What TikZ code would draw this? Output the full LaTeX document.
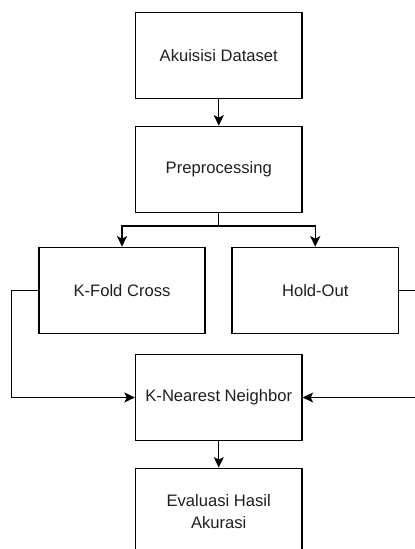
\documentclass[tikz,border=0pt]{standalone}
\usepackage{fontspec}
\setmainfont{Liberation Sans}
\usetikzlibrary{arrows.meta}
\begin{document}
\begin{tikzpicture}[x=1pt,y=-1pt,
  box/.style={draw=black,line width=1.3pt,minimum width=166.5pt,minimum height=86pt,inner sep=2pt,
    align=center,font=\fontsize{16.6}{22}\selectfont,text=black!88},
  conn/.style={draw=black,line width=1.3pt},
  arr/.style={conn,-{Stealth[length=10.5pt,width=10pt,inset=2.5pt]}}]
\useasboundingbox (0,0) rectangle (415,549);
\clip (0,0) rectangle (415,549);
\node[box] (acq) at (218.75,55.5) {Akuisisi Dataset};
\node[box] (pre) at (218.75,169.3) {Preprocessing};
\node[box,minimum width=166pt] (kf) at (122,290.3) {K-Fold Cross};
\node[box] (ho) at (315.25,290.3) {Hold-Out};
\node[box] (knn) at (218.75,397.5) {K-Nearest Neighbor};
\node[box] (ev) at (218.75,511.2) {Evaluasi Hasil\\Akurasi};
\coordinate (split) at (218.75,226);
\coordinate (lx) at (11.7,397.5);
\coordinate (rx) at (430,397.5);
\draw[arr] (acq.south) -- (pre.north);
\draw[conn] (pre.south) -- (split);
\draw[arr] (split) -| (kf.north);
\draw[arr] (split) -| (ho.north);
\draw[conn] (kf.west) -| (lx);
\draw[arr] (lx) -- (knn.west);
\draw[conn] (ho.east) -| (rx);
\draw[arr] (rx) -- (knn.east);
\draw[arr] (knn.south) -- (ev.north);
\end{tikzpicture}
\end{document}
